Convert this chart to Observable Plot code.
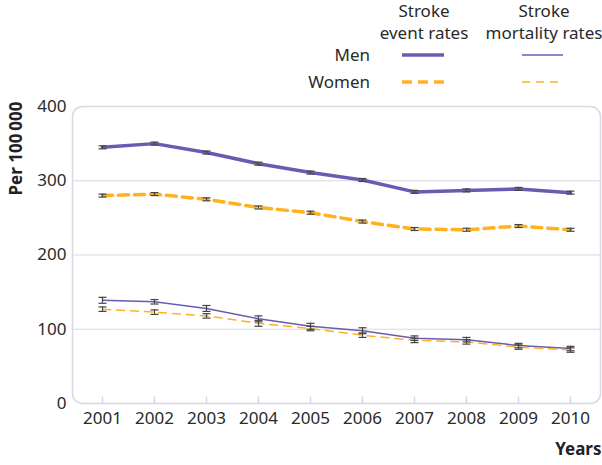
<!DOCTYPE html>
<html><head><meta charset="utf-8">
<script src="https://cdn.jsdelivr.net/npm/d3@7"></script>
<script src="https://cdn.jsdelivr.net/npm/@observablehq/plot@0.6"></script>
<style>
body{margin:0;background:#fff;font-family:"Noto Sans",sans-serif;}
#wrap{position:relative;width:602px;height:465px;overflow:hidden;}
.lg{position:absolute;font-size:17px;color:#2a2a2a;white-space:nowrap;line-height:20px;height:20px;}
.c{transform:translateX(-50%);text-align:center;}
.r{transform:translateX(-100%);}
#wrap svg.sw{position:absolute;left:0;top:0;}
</style></head><body><div id="wrap"></div>
<script>
const years = [2001, 2002, 2003, 2004, 2005, 2006, 2007, 2008, 2009, 2010];
const menEvent      = [345, 350, 338, 323, 311, 301, 285, 287, 289, 284];
const menEventErr   = [2, 2, 2, 2, 2, 2, 2, 2, 2, 2];
const womenEvent    = [280, 282, 275, 264, 257, 245, 235, 234, 239, 234];
const womenEventErr = [2, 2, 2, 2, 2, 2, 2, 2, 2, 2];
const menMort       = [139, 137, 128, 114, 104, 98, 88, 86, 78, 74];
const menMortErr    = [4, 3, 4, 4, 4, 4, 3, 3, 3, 3];
const womenMort     = [127, 123, 118, 108, 101, 92, 85, 83, 76, 72];
const womenMortErr  = [3, 3, 3, 4, 3, 3, 3, 3, 3, 3];
const yTicks = [0, 100, 200, 300, 400];
const gridTicks = [100, 200, 300];

const purple = "#6a5bb2";
const orange = "#ffb11f";
const grid = "#d8d8e4";

function rows(vals, errs) {
  return years.map((y, i) => ({year: y, value: vals[i], lo: vals[i] - errs[i], hi: vals[i] + errs[i]}));
}
const series = [
  {data: rows(menEvent, menEventErr), stroke: purple, width: 3.5, dash: null},
  {data: rows(womenEvent, womenEventErr), stroke: orange, width: 3.5, dash: "10,6"},
  {data: rows(menMort, menMortErr), stroke: purple, width: 1.5, dash: null},
  {data: rows(womenMort, womenMortErr), stroke: orange, width: 1.5, dash: "8,6"}
];

const cap = {draw(ctx) { ctx.moveTo(-4, 0); ctx.lineTo(4, 0); }};
const vtick = {draw(ctx) { ctx.moveTo(0, 0); ctx.lineTo(0, -7); }};

const marks = [
  Plot.gridY(gridTicks, {stroke: grid, strokeOpacity: 1, strokeWidth: 1.2}),
  Plot.frame({rx: 10, stroke: grid, strokeWidth: 1.5}),
  Plot.dot(years, {x: d => d, y: () => 0, symbol: vtick, r: 5, stroke: grid, strokeWidth: 1.5, fill: "none"}),
  Plot.axisY({ticks: yTicks, tickSize: 0, tickPadding: 6, label: null, fontSize: 17, fill: "#2a2a2a"}),
  Plot.axisX({tickSize: 0, tickPadding: 8, label: null, fontSize: 17, fill: "#2a2a2a", tickFormat: d => String(d)}),
];
for (const s of series) {
  marks.push(Plot.line(s.data, {x: "year", y: "value", stroke: s.stroke, strokeWidth: s.width, strokeDasharray: s.dash}));
}
for (const s of series) {
  marks.push(Plot.ruleX(s.data, {x: "year", y1: "lo", y2: "hi", stroke: "#444", strokeWidth: 1.2}));
  marks.push(Plot.dot(s.data, {x: "year", y: "lo", symbol: cap, r: 4, stroke: "#444", strokeWidth: 1.2, fill: "none"}));
  marks.push(Plot.dot(s.data, {x: "year", y: "hi", symbol: cap, r: 4, stroke: "#444", strokeWidth: 1.2, fill: "none"}));
}
marks.push(Plot.text(["Years"], {frameAnchor: "bottom-right", dx: 1, dy: 51, textAnchor: "end", fontWeight: "bold", fontSize: 17, fill: "#222"}));
marks.push(Plot.text(["Per 100\u2009000"], {frameAnchor: "top-left", dx: -63, dy: 42, rotate: -90, textAnchor: "middle", fontWeight: "bold", fontSize: 17, fill: "#222"}));

const chart = Plot.plot({
  width: 602,
  height: 465,
  marginLeft: 72,
  marginRight: 2,
  marginTop: 106,
  marginBottom: 62,
  style: {fontFamily: "'Noto Sans', sans-serif", fontSize: "17px", background: "white"},
  x: {type: "point", domain: years, padding: 0.545},
  y: {domain: [0, 400]},
  marks
});
const wrap = document.getElementById("wrap");
wrap.appendChild(chart);

// Legend (added above the plot area)
const legendTexts = [
  ["Stroke", 424, 1, "c"], ["event rates", 424, 23, "c"],
  ["Stroke", 544, 1, "c"], ["mortality rates", 544, 23, "c"],
  ["Men", 370, 45, "r"], ["Women", 370, 72, "r"]
];
for (const [t, x, y, cls] of legendTexts) {
  const d = document.createElement("div");
  d.className = "lg " + cls;
  d.style.left = x + "px"; d.style.top = y + "px";
  d.textContent = t;
  wrap.appendChild(d);
}
const sw = d3.select(wrap).append("svg").attr("class", "sw").attr("width", 602).attr("height", 100);
const swatches = [
  [402, 444, 55, purple, 3.5, null],
  [402, 444, 82, orange, 3.5, "10,6"],
  [522, 563, 55, purple, 1.5, null],
  [522, 563, 82, orange, 1.5, "8,6"]
];
for (const [x1, x2, y, c, w, dash] of swatches) {
  sw.append("line").attr("x1", x1).attr("x2", x2).attr("y1", y).attr("y2", y)
    .attr("stroke", c).attr("stroke-width", w).attr("stroke-dasharray", dash);
}
</script></body></html>
